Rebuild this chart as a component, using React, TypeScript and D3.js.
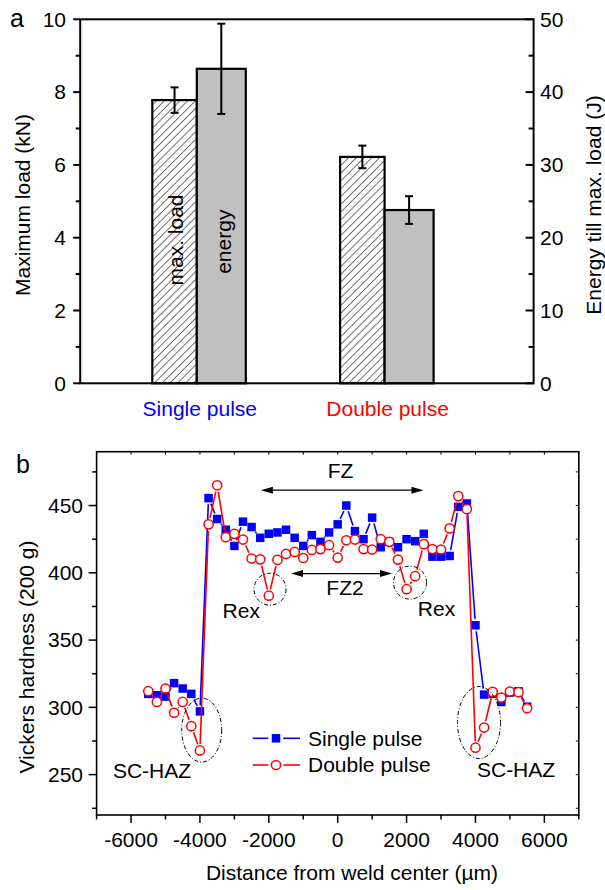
import React from 'react';
import * as d3 from 'd3';

// ---------- Panel a data ----------
const groups = ['Single pulse', 'Double pulse'];
const groupColors = ['#0000ff', '#ff0000'];
const maxLoad = [7.78, 6.22];
const maxLoadErr = [0.35, 0.31];
const energy = [43.2, 23.8];
const energyErr = [6.2, 1.9];
const loadTicks = [0, 2, 4, 6, 8, 10];
const loadMinorTicks = [1, 3, 5, 7, 9];
const energyTicks = [0, 10, 20, 30, 40, 50];
const energyMinorTicks = [5, 15, 25, 35, 45];

// ---------- Panel b data ----------
const distance = [
  -5500, -5250, -5000, -4750, -4500, -4250, -4000, -3750, -3500, -3250, -3000,
  -2750, -2500, -2250, -2000, -1750, -1500, -1250, -1000, -750, -500, -250, 0,
  250, 500, 750, 1000, 1250, 1500, 1750, 2000, 2250, 2500, 2750, 3000, 3250,
  3500, 3750, 4000, 4250, 4500, 4750, 5000, 5250, 5500,
];
const singlePulse = [
  310, 309, 308, 318, 314, 310, 297, 455.5, 440, 432, 420, 438, 434, 426, 429,
  430, 432, 426, 420, 428, 423, 430, 436, 450, 431, 425, 441, 419, 423, 419,
  425, 423.5, 429, 412, 412, 412.5, 449, 451.5, 361, 309.5, 310, 304, 311, 312,
  300.5,
];
const doublePulse = [
  312, 304, 314, 296, 304, 286, 268, 436, 465, 426.5, 429, 424.7, 410.6, 410,
  383, 409.6, 414, 415.5, 411, 417, 417.6, 420.5, 411.3, 424.2, 424.7, 417.6,
  417.3, 425, 423, 409.8, 387.8, 397.5, 421.3, 417.6, 417.3, 433, 457, 447.3,
  270, 285, 311.5, 307.3, 311.8, 311.3, 299.3,
];
const distTicks = [-6000, -4000, -2000, 0, 2000, 4000, 6000];
const distMinorTicks = [-7000, -5000, -3000, -1000, 1000, 3000, 5000, 7000];
const hvTicks = [250, 300, 350, 400, 450];
const hvMinorTicks = [225, 275, 325, 375, 425, 475];
const seriesNames = ['Single pulse', 'Double pulse'];

// annotations (data coordinates)
const textLabels = [
  { t: 'FZ', x: 82, y: 476.2 },
  { t: 'FZ2', x: 212, y: 389.3 },
  { t: 'Rex', x: -2800, y: 372.2 },
  { t: 'Rex', x: 2869, y: 373 },
  { t: 'SC-HAZ', x: -5391, y: 252.7 },
  { t: 'SC-HAZ', x: 5178, y: 253.4 },
];
const arrows = [
  { x1: -2230, x2: 2490, y: 461.4 },
  { x1: -1355, x2: 1577, y: 399.4 },
];
const ellipses = [
  { x: -1965, y: 387.8, rx: 16, ry: 16 },
  { x: 2100, y: 392.7, rx: 16.5, ry: 16.5 },
  { x: -3948, y: 283.1, rx: 20, ry: 32 },
  { x: 4103, y: 288.7, rx: 21.5, ry: 36 },
];

const FONT = '"Liberation Sans", Arial, Helvetica, sans-serif';
const FS = 21;

function gapped(pts: [number, number][], gap: number) {
  const segs: number[][] = [];
  for (let i = 0; i < pts.length - 1; i++) {
    const [x1, y1] = pts[i];
    const [x2, y2] = pts[i + 1];
    const dx = x2 - x1, dy = y2 - y1;
    const L = Math.hypot(dx, dy);
    if (L <= 2 * gap + 0.5) continue;
    const ux = dx / L, uy = dy / L;
    segs.push([x1 + ux * gap, y1 + uy * gap, x2 - ux * gap, y2 - uy * gap]);
  }
  return segs;
}

function PanelA() {
  const L = 80.2, R = 533.6, T = 19.3, B = 383.3;
  const y = d3.scaleLinear().domain([0, 10]).range([B, T]);
  const yE = d3.scaleLinear().domain([0, 50]).range([B, T]);
  const xg = d3.scalePoint<string>().domain(groups).range([196.8, 384.6]);
  const wLoad = 44.5;
  const wEn = 49;
  return (
    <g>
      <defs>
        <pattern id="hatch" patternUnits="userSpaceOnUse" width="5.5" height="5.5" patternTransform="rotate(45)">
          <rect width="5.5" height="5.5" fill="white" />
          <line x1="0" y1="0" x2="0" y2="5.5" stroke="black" strokeWidth="1.1" />
        </pattern>
      </defs>
      {groups.map((g, i) => {
        const cx = xg(g)!;
        const yl = y(maxLoad[i]);
        const ye = yE(energy[i]);
        const lc = cx - wLoad / 2;
        const ec = cx + wEn / 2;
        return (
          <g key={g}>
            <rect x={cx - wLoad} y={yl} width={wLoad} height={B - yl} fill="url(#hatch)" stroke="black" strokeWidth={2.2} />
            <rect x={cx} y={ye} width={wEn} height={B - ye} fill="#c0c0c0" stroke="black" strokeWidth={2.2} />
            <g stroke="black" strokeWidth={2}>
              <line x1={lc} x2={lc} y1={y(maxLoad[i] - maxLoadErr[i])} y2={y(maxLoad[i] + maxLoadErr[i])} />
              <line x1={lc - 4} x2={lc + 4} y1={y(maxLoad[i] - maxLoadErr[i])} y2={y(maxLoad[i] - maxLoadErr[i])} />
              <line x1={lc - 4} x2={lc + 4} y1={y(maxLoad[i] + maxLoadErr[i])} y2={y(maxLoad[i] + maxLoadErr[i])} />
              <line x1={ec} x2={ec} y1={yE(energy[i] - energyErr[i])} y2={yE(energy[i] + energyErr[i])} />
              <line x1={ec - 4} x2={ec + 4} y1={yE(energy[i] - energyErr[i])} y2={yE(energy[i] - energyErr[i])} />
              <line x1={ec - 4} x2={ec + 4} y1={yE(energy[i] + energyErr[i])} y2={yE(energy[i] + energyErr[i])} />
            </g>
            <text x={cx + 3} y={409} dy="0.35em" textAnchor="middle" fill={groupColors[i]} fontSize={FS}>{g}</text>
          </g>
        );
      })}
      <text transform={`translate(175.5,240) rotate(-90)`} textAnchor="middle" dy="0.35em" fontSize={FS}>max. load</text>
      <text transform={`translate(223.8,241.7) rotate(-90)`} textAnchor="middle" dy="0.35em" fontSize={FS}>energy</text>
      <rect x={L} y={T} width={R - L} height={B - T} fill="none" stroke="black" strokeWidth={2} />
      {loadTicks.map((t) => (
        <g key={'l' + t}>
          <line x1={L - 7} x2={L} y1={y(t)} y2={y(t)} stroke="black" strokeWidth={2} />
          <text x={66} y={y(t)} dy="0.35em" textAnchor="end" fontSize={FS}>{t}</text>
        </g>
      ))}
      {loadMinorTicks.map((t) => (
        <line key={'lm' + t} x1={L - 4.5} x2={L} y1={y(t)} y2={y(t)} stroke="black" strokeWidth={2} />
      ))}
      {energyTicks.map((t) => (
        <g key={'r' + t}>
          <line x1={R - 8} x2={R} y1={yE(t)} y2={yE(t)} stroke="black" strokeWidth={2} />
          <text x={540} y={yE(t)} dy="0.35em" textAnchor="start" fontSize={FS}>{t}</text>
        </g>
      ))}
      {energyMinorTicks.map((t) => (
        <line key={'rm' + t} x1={R - 5} x2={R} y1={yE(t)} y2={yE(t)} stroke="black" strokeWidth={2} />
      ))}
      <text transform={`translate(23,205) rotate(-90)`} textAnchor="middle" dy="0.35em" fontSize={FS}>Maximum load (kN)</text>
      <text transform={`translate(594,205) rotate(-90)`} textAnchor="middle" dy="0.35em" fontSize={FS}>Energy till max. load (J)</text>
      <text x={17} y={18} dy="0.35em" textAnchor="middle" fontSize={25}>a</text>
    </g>
  );
}

function PanelB() {
  const L = 96.6, R = 578.8, T = 451.7, B = 815;
  const x = d3.scaleLinear().domain([-7000, 7000]).range([L, R]);
  const y = d3.scaleLinear().domain([220, 490]).range([B, T]);
  const ptsS: [number, number][] = distance.map((d, i) => [x(d), y(singlePulse[i])]);
  const ptsD: [number, number][] = distance.map((d, i) => [x(d), y(doublePulse[i])]);
  const segS = gapped(ptsS, 6);
  const segD = gapped(ptsD, 6.5);
  const sq = 8.5;
  return (
    <g>
      <g stroke="#0000ff" strokeWidth={1.6}>
        {segS.map((s, i) => <line key={i} x1={s[0]} y1={s[1]} x2={s[2]} y2={s[3]} />)}
      </g>
      {ptsS.map((p, i) => (
        <rect key={i} x={p[0] - sq / 2} y={p[1] - sq / 2} width={sq} height={sq} fill="#0000ff" />
      ))}
      <g stroke="#ff0000" strokeWidth={1.6}>
        {segD.map((s, i) => <line key={i} x1={s[0]} y1={s[1]} x2={s[2]} y2={s[3]} />)}
      </g>
      {ptsD.map((p, i) => (
        <circle key={i} cx={p[0]} cy={p[1]} r={4.6} fill="white" stroke="#ff0000" strokeWidth={1.5} />
      ))}
      {ellipses.map((e, i) => (
        <ellipse key={i} cx={x(e.x)} cy={y(e.y)} rx={e.rx} ry={e.ry} fill="none" stroke="black" strokeWidth={1} strokeDasharray="4,2,1,2" />
      ))}
      {arrows.map((a, i) => {
        const x1 = x(a.x1), x2 = x(a.x2), yy = y(a.y);
        return (
          <g key={i}>
            <line x1={x1 + 10} x2={x2 - 10} y1={yy} y2={yy} stroke="black" strokeWidth={1.2} />
            <path d={`M${x1},${yy} L${x1 + 12},${yy - 3.5} L${x1 + 12},${yy + 3.5} Z`} fill="black" />
            <path d={`M${x2},${yy} L${x2 - 12},${yy - 3.5} L${x2 - 12},${yy + 3.5} Z`} fill="black" />
          </g>
        );
      })}
      {textLabels.map((t, i) => (
        <text key={i} x={x(t.x)} y={y(t.y)} dy="0.35em" textAnchor="middle" fontSize={FS}>{t.t}</text>
      ))}
      <g>
        <line x1={252.7} x2={268.3} y1={738.3} y2={738.3} stroke="#0000ff" strokeWidth={1.6} />
        <line x1={283.3} x2={300} y1={738.3} y2={738.3} stroke="#0000ff" strokeWidth={1.6} />
        <rect x={276 - sq / 2} y={738.3 - sq / 2} width={sq} height={sq} fill="#0000ff" />
        <text x={308} y={738.3} dy="0.35em" fontSize={FS}>{seriesNames[0]}</text>
        <line x1={252.7} x2={268.3} y1={765} y2={765} stroke="#ff0000" strokeWidth={1.6} />
        <line x1={283.3} x2={300} y1={765} y2={765} stroke="#ff0000" strokeWidth={1.6} />
        <circle cx={276} cy={765} r={4.6} fill="white" stroke="#ff0000" strokeWidth={1.5} />
        <text x={308} y={765} dy="0.35em" fontSize={FS}>{seriesNames[1]}</text>
      </g>
      <rect x={L} y={T} width={R - L} height={B - T} fill="none" stroke="black" strokeWidth={1.6} />
      {distTicks.map((t) => (
        <g key={'x' + t}>
          <line x1={x(t)} x2={x(t)} y1={B} y2={B + 8} stroke="black" strokeWidth={1.5} />
          <text x={x(t)} y={840} dy="0.35em" textAnchor="middle" fontSize={FS}>{t}</text>
        </g>
      ))}
      {distMinorTicks.map((t) => (
        <line key={'xm' + t} x1={x(t)} x2={x(t)} y1={B} y2={B + 4.5} stroke="black" strokeWidth={1.5} />
      ))}
      {[...distTicks, ...distMinorTicks].map((t) => (
        <line key={'xt' + t} x1={x(t)} x2={x(t)} y1={T} y2={T + 3} stroke="black" strokeWidth={1} />
      ))}
      {hvTicks.map((t) => (
        <g key={'y' + t}>
          <line x1={L - 8} x2={L} y1={y(t)} y2={y(t)} stroke="black" strokeWidth={1.5} />
          <text x={83} y={y(t)} dy="0.35em" textAnchor="end" fontSize={FS}>{t}</text>
        </g>
      ))}
      {hvMinorTicks.map((t) => (
        <line key={'ym' + t} x1={L - 4.5} x2={L} y1={y(t)} y2={y(t)} stroke="black" strokeWidth={1.5} />
      ))}
      {[...hvTicks, ...hvMinorTicks].map((t) => (
        <line key={'yr' + t} x1={R - 3} x2={R} y1={y(t)} y2={y(t)} stroke="black" strokeWidth={1} />
      ))}
      <text x={352} y={873} dy="0.35em" textAnchor="middle" fontSize={FS}>Distance from weld center (µm)</text>
      <text transform={`translate(27,657) rotate(-90)`} textAnchor="middle" dy="0.35em" fontSize={FS}>Vickers hardness (200 g)</text>
      <text x={23} y={464} dy="0.35em" textAnchor="middle" fontSize={25}>b</text>
    </g>
  );
}

export default function App() {
  return (
    <svg
      width={605}
      height={890}
      viewBox="0 0 605 890"
      style={{ position: 'absolute', left: 0, top: 0, background: 'white', fontFamily: FONT }}
    >
      <rect width={605} height={890} fill="white" />
      <PanelA />
      <PanelB />
    </svg>
  );
}
